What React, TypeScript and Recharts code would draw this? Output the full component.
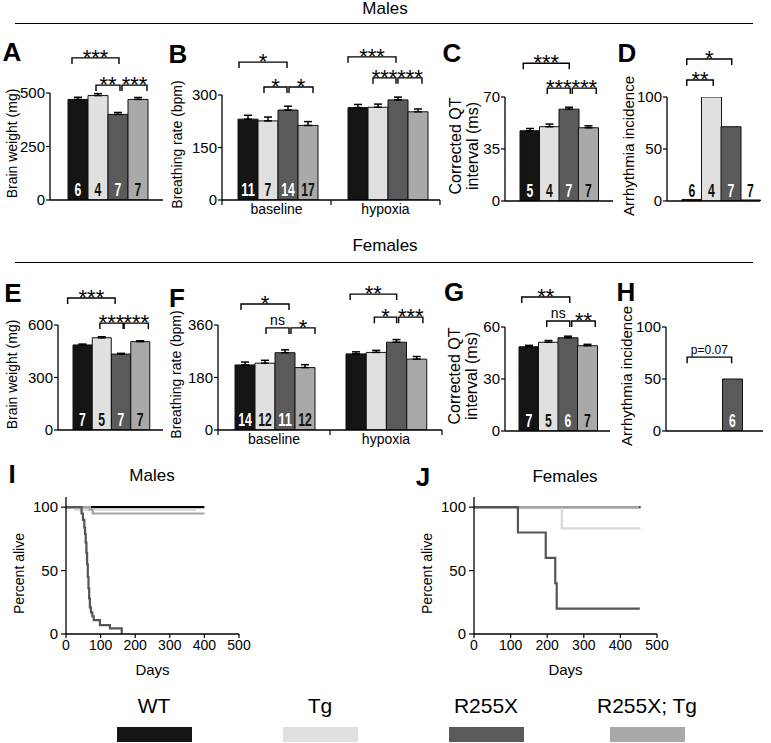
import React from "react";
import {
  BarChart,
  Bar,
  XAxis,
  YAxis,
  ErrorBar,
  Cell,
  LabelList,
  ReferenceLine,
  LineChart,
  Line,
} from "recharts";

const FONT = "'Liberation Sans', Arial, Helvetica, sans-serif";
const NARROW = "'Liberation Sans Narrow', 'Liberation Sans', Arial, sans-serif";

const genotypes = ["WT", "Tg", "R255X", "R255X; Tg"];
const genotypeColors = ["#141414", "#e0e0e0", "#5a5a5a", "#a9a9a9"];
const conditions = ["baseline", "hypoxia"];

// males
const maleBrainWeight = [470, 488, 400, 470];
const maleBrainWeightErr = [10, 9, 9, 9];
const maleBrainN = [6, 4, 7, 7];

const maleBreathBaseline = [231, 226, 257, 213];
const maleBreathBaselineErr = [11, 11, 11, 11];
const maleBreathHypoxia = [264, 265, 286, 252];
const maleBreathHypoxiaErr = [9, 9, 8, 8];
const maleBreathN = [11, 7, 14, 17];

const maleQT = [47.3, 50, 61.8, 49.3];
const maleQTErr = [1.5, 1.8, 1.3, 1.3];
const maleQTN = [5, 4, 7, 7];

const maleArrhythmia = [1.5, 100, 71.4, 1];
const maleArrhythmiaN = [6, 4, 7, 7];

// females
const femaleBrainWeight = [486, 527, 434, 505];
const femaleBrainWeightErr = [5, 6, 4, 5];
const femaleBrainN = [7, 5, 7, 7];

const femaleBreathBaseline = [223, 229, 265, 214];
const femaleBreathBaselineErr = [10, 10, 10, 10];
const femaleBreathHypoxia = [261, 266, 301, 243];
const femaleBreathHypoxiaErr = [7, 7, 9, 9];
const femaleBreathN = [14, 12, 11, 12];

const femaleQT = [48.6, 51.2, 53.8, 49.2];
const femaleQTErr = [0.8, 1, 0.9, 0.8];
const femaleQTN = [7, 5, 6, 7];

const femaleArrhythmia = [0, 0, 50, 0];
const femaleArrhythmiaN = [7, 5, 6, 7];

// survival (days, percent alive)
const maleSurvWT = [
  { day: 0, pct: 100 },
  { day: 400, pct: 100 },
];
const maleSurvTg = [
  { day: 0, pct: 100 },
  { day: 26, pct: 98 },
  { day: 377, pct: 98 },
];
const maleSurvR255XTg = [
  { day: 0, pct: 100 },
  { day: 69, pct: 98 },
  { day: 77, pct: 95 },
  { day: 400, pct: 95 },
];
const maleSurvR255X = [
  { day: 0, pct: 100 },
  { day: 45, pct: 95 },
  { day: 49, pct: 90 },
  { day: 53, pct: 84 },
  { day: 55, pct: 79 },
  { day: 57, pct: 72 },
  { day: 59, pct: 64 },
  { day: 61, pct: 55 },
  { day: 63, pct: 45 },
  { day: 65, pct: 36 },
  { day: 67, pct: 28 },
  { day: 69, pct: 21 },
  { day: 72, pct: 17 },
  { day: 76, pct: 14 },
  { day: 80, pct: 11 },
  { day: 98, pct: 7 },
  { day: 127, pct: 4.5 },
  { day: 161, pct: 0 },
];

const femaleSurvWT = [
  { day: 0, pct: 100 },
  { day: 455, pct: 100 },
];
const femaleSurvTg = [
  { day: 0, pct: 100 },
  { day: 240, pct: 83.3 },
  { day: 455, pct: 83.3 },
];
const femaleSurvR255XTg = [
  { day: 0, pct: 100 },
  { day: 452, pct: 100 },
];
const femaleSurvR255X = [
  { day: 0, pct: 100 },
  { day: 120, pct: 80 },
  { day: 196, pct: 60 },
  { day: 222, pct: 40 },
  { day: 226, pct: 20 },
  { day: 453, pct: 20 },
];

type Rect = { x: number; y: number; w: number; h: number };
// a, b: genotype indexes; y: height in data units; dl/dr: small pixel nudges of the ends
type Bracket = { a: number; b: number; y: number; label: string; dl?: number; dr?: number };

const TOP = 80;
const LEFT = 70;
const BOTTOM = 26;
const RIGHT = 8;
const AXIS = { stroke: "#000", strokeWidth: 1.3 };

function verticalLabel(lines: string[], cx: number, cy: number, size: number) {
  return () => (
    <text
      x={cx}
      y={cy}
      transform={`rotate(-90 ${cx} ${cy})`}
      textAnchor="middle"
      dominantBaseline="central"
      fontFamily={FONT}
      fontSize={size}
      fill="#000"
    >
      {lines.map((l, i) => (
        <tspan key={i} x={cx} dy={i === 0 ? -((lines.length - 1) / 2) * (size + 1) : size + 1}>
          {l}
        </tspan>
      ))}
    </text>
  );
}

function bracketShape(br: Bracket) {
  const stars = /^\*+$/.test(br.label);
  return (p: any) => {
    const x1 = Math.min(p.x1, p.x2) + (br.dl || 0);
    const x2 = Math.max(p.x1, p.x2) + (br.dr || 0);
    const y = p.y1;
    return (
      <g>
        <path d={`M${x1},${y + 6}V${y}H${x2}V${y + 6}`} fill="none" stroke="#000" strokeWidth={1.4} />
        <text
          x={(x1 + x2) / 2}
          y={y + (stars ? 7 : -3)}
          textAnchor="middle"
          fontFamily={FONT}
          fontSize={stars ? 22 : br.label.length > 2 ? 12 : 14}
          fill="#000"
        >
          {br.label}
        </text>
      </g>
    );
  };
}

function bracketLines(list: Bracket[]) {
  return list.map((br, i) => (
    <ReferenceLine
      key={`br${i}`}
      ifOverflow="visible"
      segment={[
        { x: genotypes[br.a], y: br.y },
        { x: genotypes[br.b], y: br.y },
      ]}
      shape={bracketShape(br)}
    />
  ));
}

function countLabel(genoOf: (x: number) => number) {
  return (p: any) => {
    const v = p.value;
    if (v === undefined || v === null || v === "") return null;
    const vb = p.viewBox && p.viewBox.width !== undefined ? p.viewBox : p;
    const x = Number(vb.x);
    const y = Number(vb.y);
    const w = Number(vb.width);
    const h = Number(vb.height);
    const gi = genoOf(x);
    const white = (gi === 0 || gi === 2) && Math.abs(h) > 24;
    const s = String(v);
    return (
      <text
        x={x + w / 2}
        y={y + h - 4.5}
        textAnchor="middle"
        fontFamily={NARROW}
        fontWeight="bold"
        fontSize={19}
        fill={white ? "#fff" : "#111"}
        textLength={s.length * 6.8}
        lengthAdjust="spacingAndGlyphs"
      >
        {s}
      </text>
    );
  };
}

// one group of four genotype bars; B and F are two of these side by side
function BarGroup(props: {
  rect: Rect;
  yMax: number;
  ticks: number[];
  pad: { left: number; right: number };
  values: number[];
  errors?: number[];
  counts?: number[];
  brackets: Bracket[];
  yLabel?: { lines: string[]; x: number; size: number };
  xLabel?: string;
  edgeTicks?: "none" | "both" | "right";
}) {
  const { rect, yMax, ticks, pad, values, errors, counts, brackets, yLabel, xLabel } = props;
  const edgeTicks = props.edgeTicks || "none";
  const data = genotypes.map((name, i) => ({
    name,
    value: values[i],
    err: errors ? [0, errors[i]] : undefined,
    n: counts ? counts[i] : undefined,
  }));
  const bw = (rect.w - pad.left - pad.right) / genotypes.length;
  const axisY = TOP + rect.h;
  const xAxisLabel = () => (
    <g>
      {xLabel && (
        <text x={LEFT + rect.w / 2} y={axisY + 13.5} textAnchor="middle" fontFamily={FONT} fontSize={14} fill="#000">
          {xLabel}
        </text>
      )}
      {edgeTicks === "both" && (
        <line x1={LEFT} x2={LEFT} y1={axisY} y2={axisY + 5} stroke="#000" strokeWidth={1.2} />
      )}
      {edgeTicks !== "none" && (
        <line x1={LEFT + rect.w} x2={LEFT + rect.w} y1={axisY} y2={axisY + 5} stroke="#000" strokeWidth={1.2} />
      )}
    </g>
  );
  return (
    <div style={{ position: "absolute", left: rect.x - LEFT, top: rect.y - TOP }}>
      <BarChart
        width={rect.w + LEFT + RIGHT}
        height={rect.h + TOP + BOTTOM}
        data={data}
        margin={{ top: TOP, right: RIGHT, bottom: BOTTOM - 20, left: yLabel ? LEFT - 40 : LEFT }}
        barCategoryGap={0}
        barGap={0}
      >
        <XAxis
          dataKey="name"
          padding={pad}
          tick={false}
          tickLine={false}
          axisLine={AXIS}
          height={20}
          label={xAxisLabel}
        />
        {yLabel ? (
          <YAxis
            type="number"
            domain={[0, yMax]}
            ticks={ticks}
            interval={0}
            allowDataOverflow
            width={40}
            tickSize={4}
            tickMargin={1}
            axisLine={AXIS}
            tickLine={{ stroke: "#000", strokeWidth: 1.2 }}
            tick={{ fontSize: 15, fill: "#000", fontFamily: FONT }}
            label={verticalLabel(yLabel.lines, yLabel.x - (rect.x - LEFT), TOP + rect.h / 2 - 3, yLabel.size)}
          />
        ) : (
          <YAxis type="number" domain={[0, yMax]} allowDataOverflow hide />
        )}
        <Bar dataKey="value" isAnimationActive={false} stroke="#111" strokeWidth={1}>
          {data.map((d, i) => (
            <Cell key={d.name} fill={genotypeColors[i]} />
          ))}
          {errors && <ErrorBar dataKey="err" direction="y" width={4} stroke="#000" strokeWidth={1.5} />}
          {counts && (
            <LabelList dataKey="n" content={countLabel((x) => Math.round((x - LEFT - pad.left) / bw))} />
          )}
        </Bar>
        {bracketLines(brackets)}
      </BarChart>
    </div>
  );
}

function SurvivalPanel(props: {
  rect: Rect;
  wt: { day: number; pct: number }[];
  tg: { day: number; pct: number }[];
  r255x: { day: number; pct: number }[];
  r255xTg: { day: number; pct: number }[];
  yLabelX: number;
}) {
  const { rect, wt, tg, r255x, r255xTg, yLabelX } = props;
  const top = 10;
  const curves = [
    { key: "WT", data: wt, color: "#000" },
    { key: "Tg", data: tg, color: "#d9d9d9" },
    { key: "R255X; Tg", data: r255xTg, color: "#a3a3a3" },
    { key: "R255X", data: r255x, color: "#555" },
  ];
  const daysLabel = () => (
    <text x={LEFT + rect.w / 2} y={top + rect.h + 41} textAnchor="middle" fontFamily={FONT} fontSize={15} fill="#000">
      Days
    </text>
  );
  return (
    <div style={{ position: "absolute", left: rect.x - LEFT, top: rect.y - top }}>
      <LineChart
        width={rect.w + LEFT + 20}
        height={rect.h + top + 50}
        margin={{ top, right: 20, bottom: 20, left: LEFT - 40 }}
      >
        <XAxis
          type="number"
          dataKey="day"
          domain={[0, 500]}
          ticks={[0, 100, 200, 300, 400, 500]}
          interval={0}
          allowDataOverflow
          height={30}
          tickSize={4}
          tickMargin={2}
          axisLine={AXIS}
          tickLine={{ stroke: "#000", strokeWidth: 1.2 }}
          tick={{ fontSize: 14, fill: "#000", fontFamily: FONT }}
          label={daysLabel}
        />
        <YAxis
          type="number"
          domain={[0, 108]}
          ticks={[0, 50, 100]}
          interval={0}
          allowDataOverflow
          width={40}
          tickSize={5}
          tickMargin={3}
          axisLine={AXIS}
          tickLine={{ stroke: "#000", strokeWidth: 1.2 }}
          tick={{ fontSize: 15, fill: "#000", fontFamily: FONT }}
          label={verticalLabel(["Percent alive"], yLabelX - (rect.x - LEFT), top + rect.h / 2 + 8, 14)}
        />
        {curves.map((c) => (
          <Line
            key={c.key}
            data={c.data}
            dataKey="pct"
            type="stepAfter"
            stroke={c.color}
            strokeWidth={2.2}
            dot={false}
            isAnimationActive={false}
          />
        ))}
      </LineChart>
    </div>
  );
}

function Txt(props: { x: number; y: number; text: string; size: number; bold?: boolean; w?: number }) {
  const w = props.w || 200;
  return (
    <div
      style={{
        position: "absolute",
        left: props.x - w / 2,
        top: props.y - props.size * 0.6,
        width: w,
        textAlign: "center",
        fontFamily: FONT,
        fontSize: props.size,
        lineHeight: `${props.size * 1.2}px`,
        fontWeight: props.bold ? "bold" : "normal",
        color: "#000",
        whiteSpace: "nowrap",
      }}
    >
      {props.text}
    </div>
  );
}

export default function App() {
  const letters = [
    { t: "A", x: 12, y: 53 },
    { t: "B", x: 178, y: 55 },
    { t: "C", x: 452, y: 54 },
    { t: "D", x: 627, y: 54 },
    { t: "E", x: 13, y: 294 },
    { t: "F", x: 177, y: 299 },
    { t: "G", x: 454, y: 293 },
    { t: "H", x: 626, y: 293 },
    { t: "I", x: 12, y: 475 },
    { t: "J", x: 423, y: 478 },
  ];
  const legendX = [154, 320, 486, 647];
  return (
    <div
      style={{
        position: "absolute",
        left: 0,
        top: 0,
        width: 771,
        height: 743,
        background: "#fff",
        overflow: "hidden",
      }}
    >
      <Txt x={385} y={9} text="Males" size={17} />
      <div style={{ position: "absolute", left: 15, top: 22.5, width: 738, height: 1.4, background: "#000" }} />
      <Txt x={385} y={246} text="Females" size={17} />
      <div style={{ position: "absolute", left: 15, top: 261.5, width: 738, height: 1.4, background: "#000" }} />
      {letters.map((l) => (
        <Txt key={l.t} x={l.x} y={l.y} text={l.t} size={26} bold w={40} />
      ))}

      {/* A */}
      <BarGroup
        rect={{ x: 50, y: 93, w: 113, h: 107 }}
        yMax={500}
        ticks={[0, 250, 500]}
        pad={{ left: 18, right: 15 }}
        values={maleBrainWeight}
        errors={maleBrainWeightErr}
        counts={maleBrainN}
        brackets={[
          { a: 0, b: 2, y: 664, label: "***", dl: -6, dr: 1 },
          { a: 1, b: 2, y: 537, label: "**", dl: -2, dr: 2 },
          { a: 2, b: 3, y: 537, label: "***", dl: 4, dr: 9 },
        ]}
        yLabel={{ lines: ["Brain weight (mg)"], x: 12, size: 14 }}
      />
      {/* B */}
      <BarGroup
        rect={{ x: 222, y: 95, w: 109, h: 105 }}
        yMax={300}
        ticks={[0, 150, 300]}
        pad={{ left: 16, right: 13 }}
        values={maleBreathBaseline}
        errors={maleBreathBaselineErr}
        counts={maleBreathN}
        brackets={[
          { a: 0, b: 2, y: 394, label: "*", dl: -9, dr: -1 },
          { a: 1, b: 2, y: 323, label: "*", dl: -4, dr: -1 },
          { a: 2, b: 3, y: 323, label: "*", dl: 1, dr: 5 },
        ]}
        yLabel={{ lines: ["Breathing rate (bpm)"], x: 177, size: 14 }}
        xLabel={conditions[0]}
        edgeTicks="both"
      />
      <BarGroup
        rect={{ x: 331, y: 95, w: 109, h: 105 }}
        yMax={300}
        ticks={[0, 150, 300]}
        pad={{ left: 17, right: 12 }}
        values={maleBreathHypoxia}
        errors={maleBreathHypoxiaErr}
        brackets={[
          { a: 0, b: 2, y: 409, label: "***", dl: -10, dr: -2 },
          { a: 1, b: 2, y: 349, label: "***", dl: -5, dr: -2 },
          { a: 2, b: 3, y: 349, label: "***", dl: 0, dr: 4 },
        ]}
        xLabel={conditions[1]}
        edgeTicks="right"
      />
      {/* C */}
      <BarGroup
        rect={{ x: 505, y: 97, w: 108, h: 104 }}
        yMax={70}
        ticks={[0, 35, 70]}
        pad={{ left: 15, right: 15 }}
        values={maleQT}
        errors={maleQTErr}
        counts={maleQTN}
        brackets={[
          { a: 0, b: 2, y: 92.7, label: "***", dl: -6.5, dr: 0.5 },
          { a: 1, b: 2, y: 76, label: "***", dl: -2, dr: 1.5 },
          { a: 2, b: 3, y: 76, label: "***", dl: 3.5, dr: 8 },
        ]}
        yLabel={{ lines: ["Corrected QT", "interval (ms)"], x: 463, size: 16 }}
      />
      {/* D */}
      <BarGroup
        rect={{ x: 667, y: 97, w: 93, h: 104 }}
        yMax={100}
        ticks={[0, 50, 100]}
        pad={{ left: 15, right: 0 }}
        values={maleArrhythmia}
        counts={maleArrhythmiaN}
        brackets={[
          { a: 0, b: 2, y: 136.5, label: "*", dl: -5, dr: 1 },
          { a: 0, b: 1, y: 116.3, label: "**", dl: -5, dr: 2 },
        ]}
        yLabel={{ lines: ["Arrhythmia incidence"], x: 628, size: 15 }}
      />

      {/* E */}
      <BarGroup
        rect={{ x: 58, y: 325, w: 105, h: 105 }}
        yMax={600}
        ticks={[0, 300, 600]}
        pad={{ left: 15, right: 13 }}
        values={femaleBrainWeight}
        errors={femaleBrainWeightErr}
        counts={femaleBrainN}
        brackets={[
          { a: 0, b: 2, y: 754, label: "***", dl: -15, dr: -6 },
          { a: 1, b: 2, y: 611, label: "***", dl: -2, dr: 2 },
          { a: 2, b: 3, y: 611, label: "***", dl: 3, dr: 8 },
        ]}
        yLabel={{ lines: ["Brain weight (mg)"], x: 12, size: 14 }}
      />
      {/* F */}
      <BarGroup
        rect={{ x: 218, y: 325, w: 112, h: 105 }}
        yMax={360}
        ticks={[0, 180, 360]}
        pad={{ left: 17, right: 15 }}
        values={femaleBreathBaseline}
        errors={femaleBreathBaselineErr}
        counts={femaleBreathN}
        brackets={[
          { a: 0, b: 2, y: 432, label: "*", dl: -4, dr: 4 },
          { a: 1, b: 2, y: 350, label: "ns", dl: 1, dr: 4 },
          { a: 2, b: 3, y: 350, label: "*", dl: 6, dr: 10 },
        ]}
        yLabel={{ lines: ["Breathing rate (bpm)"], x: 176, size: 14 }}
        xLabel={conditions[0]}
        edgeTicks="both"
      />
      <BarGroup
        rect={{ x: 330, y: 325, w: 112, h: 105 }}
        yMax={360}
        ticks={[0, 180, 360]}
        pad={{ left: 16, right: 15 }}
        values={femaleBreathHypoxia}
        errors={femaleBreathHypoxiaErr}
        brackets={[
          { a: 0, b: 2, y: 466, label: "**", dl: -6, dr: 0 },
          { a: 1, b: 2, y: 387, label: "*", dl: -2, dr: 0 },
          { a: 2, b: 3, y: 387, label: "***", dl: 2, dr: 6 },
        ]}
        xLabel={conditions[1]}
        edgeTicks="right"
      />
      {/* G */}
      <BarGroup
        rect={{ x: 505, y: 327, w: 105, h: 104 }}
        yMax={60}
        ticks={[0, 30, 60]}
        pad={{ left: 14, right: 13 }}
        values={femaleQT}
        errors={femaleQTErr}
        counts={femaleQTN}
        brackets={[
          { a: 0, b: 2, y: 77.3, label: "**", dl: -7, dr: 2 },
          { a: 1, b: 2, y: 63.5, label: "ns", dl: -1.5, dr: 2 },
          { a: 2, b: 3, y: 63.5, label: "**", dl: 4, dr: 8 },
        ]}
        yLabel={{ lines: ["Corrected QT", "interval (ms)"], x: 462, size: 16 }}
      />
      {/* H */}
      <BarGroup
        rect={{ x: 666, y: 327, w: 97, h: 104 }}
        yMax={100}
        ticks={[0, 50, 100]}
        pad={{ left: 16, right: 0 }}
        values={femaleArrhythmia}
        counts={femaleArrhythmiaN}
        brackets={[{ a: 0, b: 2, y: 71, label: "p=0.07", dl: -5, dr: -1 }]}
        yLabel={{ lines: ["Arrhythmia incidence"], x: 626, size: 15 }}
      />

      <Txt x={152} y={476} text="Males" size={17} />
      <Txt x={565} y={477} text="Females" size={17} />
      <SurvivalPanel
        rect={{ x: 66, y: 497, w: 173, h: 137 }}
        wt={maleSurvWT}
        tg={maleSurvTg}
        r255x={maleSurvR255X}
        r255xTg={maleSurvR255XTg}
        yLabelX={19}
      />
      <SurvivalPanel
        rect={{ x: 474, y: 497, w: 183, h: 137 }}
        wt={femaleSurvWT}
        tg={femaleSurvTg}
        r255x={femaleSurvR255X}
        r255xTg={femaleSurvR255XTg}
        yLabelX={427}
      />

      {genotypes.map((g, i) => (
        <React.Fragment key={g}>
          <Txt x={legendX[i]} y={706} text={g} size={21} />
          <div
            style={{
              position: "absolute",
              left: legendX[i] - 37,
              top: 727,
              width: 75,
              height: 15,
              background: genotypeColors[i],
            }}
          />
        </React.Fragment>
      ))}
    </div>
  );
}
